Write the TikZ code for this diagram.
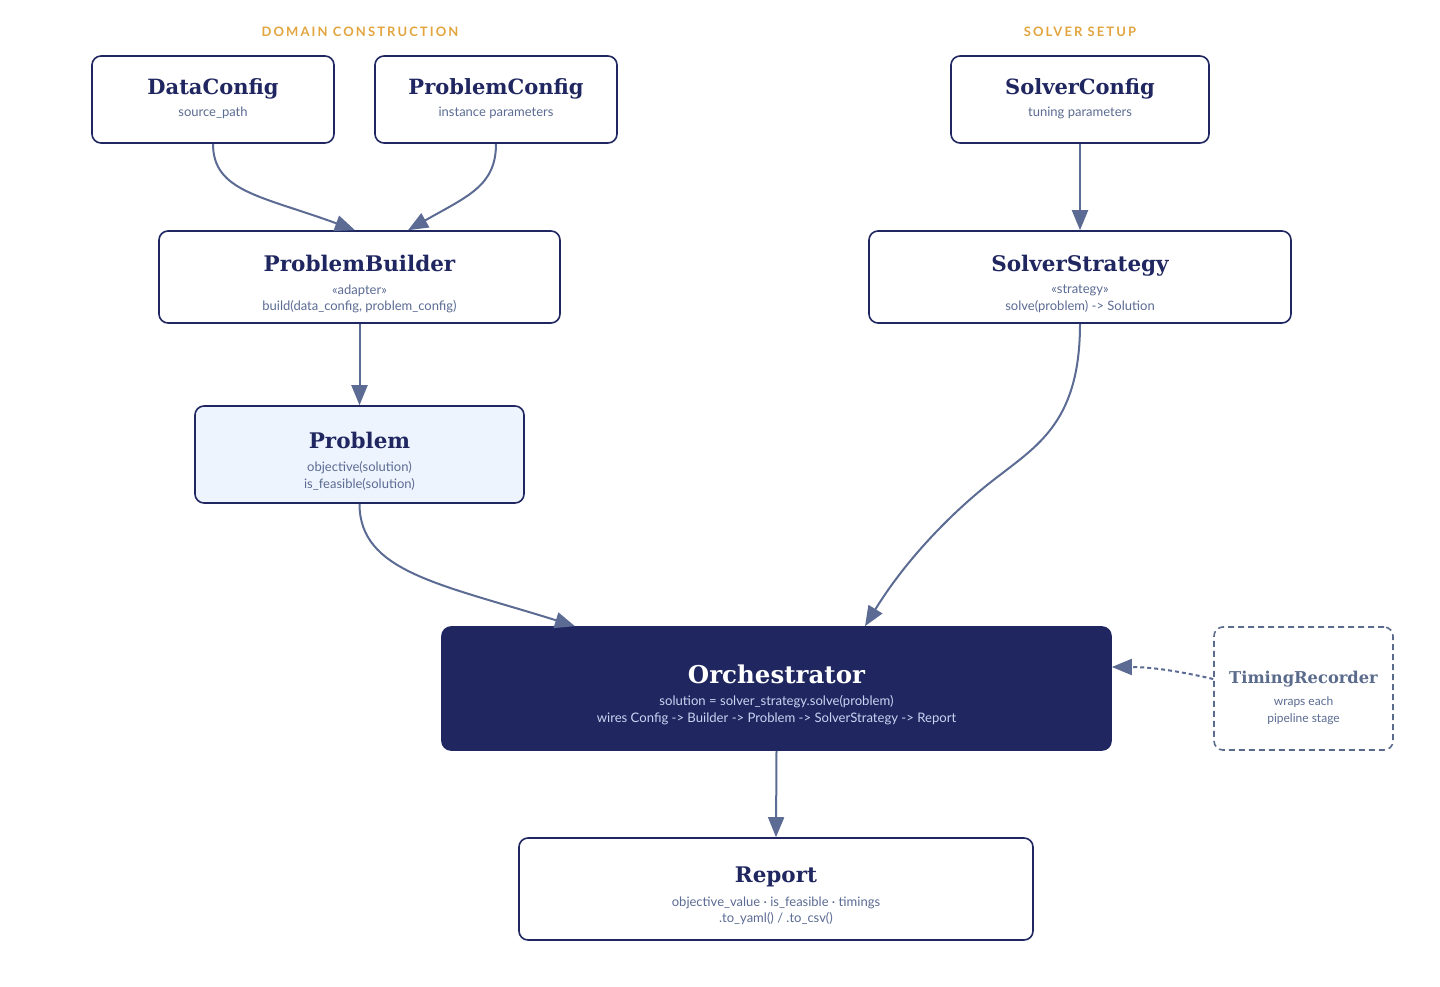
\documentclass[tikz,border=0pt]{standalone}
\usepackage{fontspec}
\setmainfont{Lato}
\newfontfamily\ttlfont{DejaVu Serif}
\newfontfamily\hdrfont[LetterSpace=16]{Lato}
\usetikzlibrary{arrows.meta}
\definecolor{navy}{HTML}{1F2660}
\definecolor{edgec}{HTML}{5B6B93}
\definecolor{subc}{HTML}{5B6B93}
\definecolor{hdrc}{HTML}{E2A53F}
\definecolor{pfill}{HTML}{EEF4FD}
\definecolor{osub}{HTML}{C9D5F2}
\definecolor{trc}{HTML}{5B6B8C}
\begin{document}
\begin{tikzpicture}[x=1pt,y=-1pt,
  box/.style={draw=navy,line width=1.6pt,rounded corners=9pt,fill=white,inner sep=0pt},
  ttl/.style={font=\ttlfont\bfseries\fontsize{21}{24}\selectfont,text=navy,inner sep=0pt,anchor=base},
  sub/.style={font=\fontsize{13}{15}\selectfont,text=subc,inner sep=0pt},
  hdr/.style={font=\hdrfont\bfseries\fontsize{13}{15}\selectfont,text=hdrc,inner sep=0pt},
  conn/.style={draw=edgec,line width=2pt,-{Triangle[length=20pt,width=16pt]}},
]
\useasboundingbox (0,0) rectangle (1440,987);
% headers
\node[hdr] (h1) at (360,32) {DOMAIN CONSTRUCTION};
\node[hdr] (h2) at (1080,32) {SOLVER SETUP};
% boxes
\node[box,minimum width=242pt,minimum height=87pt] (dc) at (213,99.5) {};
\node[ttl] (dct) at (213,94.5) {DataConfig};
\node[sub] (dcs) at (213,113) {source\_path};
\node[box,minimum width=242pt,minimum height=87pt] (pc) at (496,99.5) {};
\node[ttl] (pct) at (496,94.5) {ProblemConfig};
\node[sub] (pcs) at (496,113) {instance parameters};
\node[box,minimum width=258pt,minimum height=87pt] (sc) at (1080,99.5) {};
\node[ttl] (sct) at (1080,94.5) {SolverConfig};
\node[sub] (scs) at (1080,113) {tuning parameters};
\node[box,minimum width=401pt,minimum height=92pt] (pb) at (359.5,277) {};
\node[ttl,font=\ttlfont\bfseries\fontsize{21.5}{24}\selectfont] (pbt) at (359.5,271.5) {ProblemBuilder};
\node[sub] (pbs1) at (359.5,290.5) {«adapter»};
\node[sub] (pbs2) at (359.5,307) {build(data\_config, problem\_config)};
\node[box,minimum width=422pt,minimum height=92pt] (ss) at (1080,277) {};
\node[ttl,font=\ttlfont\bfseries\fontsize{21.5}{24}\selectfont] (sst) at (1080,271.5) {SolverStrategy};
\node[sub] (sss1) at (1080,290.5) {«strategy»};
\node[sub] (sss2) at (1080,307) {solve(problem) -> Solution};
\node[box,fill=pfill,minimum width=329pt,minimum height=97pt] (pr) at (359.5,454.5) {};
\node[ttl,font=\ttlfont\bfseries\fontsize{21.5}{24}\selectfont] (prt) at (359.5,448.5) {Problem};
\node[sub] (prs1) at (359.5,467.5) {objective(solution)};
\node[sub] (prs2) at (359.5,484) {is\_feasible(solution)};
\node[box,fill=navy,minimum width=669pt,minimum height=123pt] (or) at (776.5,688.5) {};
\node[ttl,text=white,font=\ttlfont\bfseries\fontsize{24.5}{28}\selectfont] (ort) at (776.5,683) {Orchestrator};
\node[sub,text=osub,font=\fontsize{13.1}{15}\selectfont] (ors1) at (776.5,701.5) {solution = solver\_strategy.solve(problem)};
\node[sub,text=osub,font=\fontsize{13.1}{15}\selectfont] (ors2) at (776.5,718.5) {wires Config -> Builder -> Problem -> SolverStrategy -> Report};
\node[box,draw=trc,dashed,dash pattern=on 6pt off 4pt,minimum width=179pt,minimum height=123pt] (tr) at (1303.5,688.5) {};
\node[ttl,text=trc,font=\ttlfont\bfseries\fontsize{16.3}{20}\selectfont] (trt) at (1303.5,683) {TimingRecorder};
\node[sub,font=\fontsize{12}{14}\selectfont] (trs1) at (1303.5,702.5) {wraps each};
\node[sub,font=\fontsize{12}{14}\selectfont] (trs2) at (1303.5,719) {pipeline stage};
\node[box,minimum width=514pt,minimum height=102pt] (rp) at (776,889) {};
\node[ttl,font=\ttlfont\bfseries\fontsize{21.5}{24}\selectfont] (rpt) at (776,882.5) {Report};
\node[sub] (rps1) at (776,902.5) {objective\_value · is\_feasible · timings};
\node[sub] (rps2) at (776,919) {.to\_yaml() / .to\_csv()};
% connectors
\coordinate (pbin1) at ([xshift=-4.5pt]pb.north);
\coordinate (pbin2) at ([xshift=48.5pt]pb.north);
\draw[conn] (dc.south) .. controls +(0,48) and (262,196) .. (pbin1);
\draw[conn] (pc.south) .. controls +(0,42) and (468,196) .. (pbin2);
\draw[conn] (sc.south) -- (ss.north);
\draw[conn] (pb.south) -- (pr.north);
\coordinate (orin1) at ([xshift=-201.5pt]or.north);
\coordinate (orin2) at ([xshift=88.5pt]or.north);
\coordinate (ssmid) at (1000,475);
\draw[conn] (pr.south) .. controls +(0,68) and (440,584) .. (orin1);
\draw[conn] (ss.south) .. controls +(0,95) and (1040,444) .. (ssmid) .. controls (952,511) and (905,561) .. (orin2);
\coordinate (orr) at ([yshift=21.5pt]or.east);
\coordinate (trl) at ([yshift=9.5pt]tr.west);
\draw[conn,dash pattern=on 4pt off 3pt] (trl) .. controls (1170,669) and (1145,667) .. (orr);
\draw[conn] (or.south) -- (rp.north);
\end{tikzpicture}
\end{document}
